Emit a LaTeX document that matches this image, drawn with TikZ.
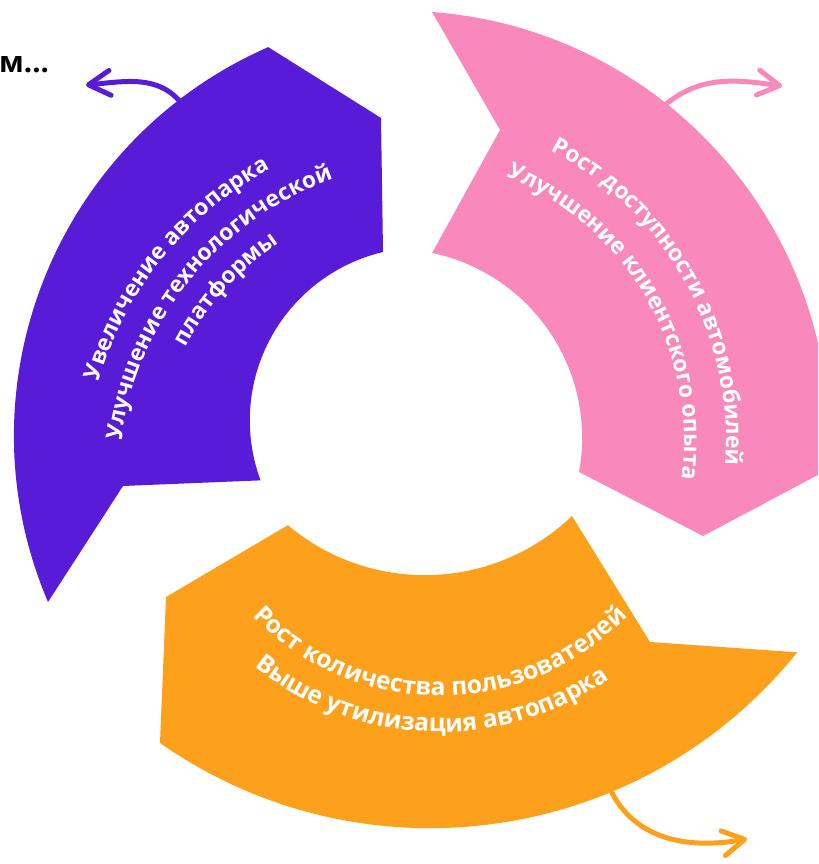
\documentclass[tikz,border=0pt]{standalone}
\usepackage{fontspec}
\setmainfont{Open Sans}
\usetikzlibrary{arrows.meta,decorations.text}

\definecolor{segviolet}{HTML}{581CD9}
\definecolor{segpink}{HTML}{F989BB}
\definecolor{segorange}{HTML}{FDA11D}

\newcommand{\segfont}{\fontsize{19.5}{24}\selectfont\bfseries\color{white}}
\newcommand{\lowfont}{\fontsize{21}{25}\selectfont\bfseries\color{white}}

\tikzset{
	flowarrow/.style={line width=1.5mm, line cap=round, -{Straight Barb[length=6.5mm, width=7.5mm, round]}},
	segtext/.style={decorate, decoration={text along path, text align=center, text={|\segfont|#1}}},
	lowtext/.style={decorate, decoration={text along path, text align=center, text={|\lowfont|#1}}}
}

\begin{document}
\begin{tikzpicture}[x=0.3mm, y=0.3mm]
\useasboundingbox (0,0) rectangle (818,864);
\clip (0,0) rectangle (818,864);

% the three parts of the cycle
\fill[segviolet] (48,262) arc[start angle=203.1, end angle=113.6, radius=424]
	-- (381,746) -- (383,612) arc[start angle=103.3, end angle=200.3, radius=173]
	-- (123,378) -- cycle;
\fill[segpink] (432,852) arc[start angle=85.7, end angle=-4, radius=429]
	-- (703,328) -- (579,392) arc[start angle=-10.4, end angle=78.1, radius=189]
	-- (500,734) -- cycle;
\fill[segorange] (160,121) arc[start angle=235, end angle=321.2, radius=471]
	-- (650,222) -- (572,348) arc[start angle=-46.2, end angle=-130.1, radius=212.6]
	-- (166,267) -- cycle;

% small arrows
\coordinate (vstart) at (182,760);
\coordinate (vend) at (86,779);
\coordinate (pstart) at (665,759);
\coordinate (pend) at (782,778);
\coordinate (ostart) at (612,71);
\coordinate (oend) at (747,25);
\draw[flowarrow, segviolet] (vstart) to[out=128, in=5] (vend);
\draw[flowarrow, segpink] (pstart) to[out=40, in=172] (pend);
\draw[flowarrow, segorange] (ostart) to[out=-62, in=190] (oend);

% texts
\path[segtext={Увеличение автопарка}] ([shift={(440,382)}]190:356) arc[start angle=190, end angle=92, radius=356];
\path[segtext={Улучшение технологической}] ([shift={(440,382)}]190:321) arc[start angle=190, end angle=92, radius=321];
\path[segtext={платформы}] ([shift={(440,382)}]188:288) arc[start angle=188, end angle=88, radius=288];

\path[segtext={Рост доступности автомобилей}] ([shift={(400,424)}]84:326) arc[start angle=84, end angle=-26, radius=326];
\path[segtext={Улучшение клиентского опыта}] ([shift={(400,424)}]85:284) arc[start angle=85, end angle=-25, radius=284];

\path[lowtext={Рост количества пользователей}] ([shift={(440,428)}]210:260) arc[start angle=210, end angle=330, radius=260];
\path[lowtext={Выше утилизация автопарка}] ([shift={(440,428)}]213:296) arc[start angle=213, end angle=323, radius=296];

\node[anchor=base west, inner sep=0pt, font=\fontsize{25}{28}\selectfont\bfseries] (title) at (-1,791) {м...};
\end{tikzpicture}
\end{document}
